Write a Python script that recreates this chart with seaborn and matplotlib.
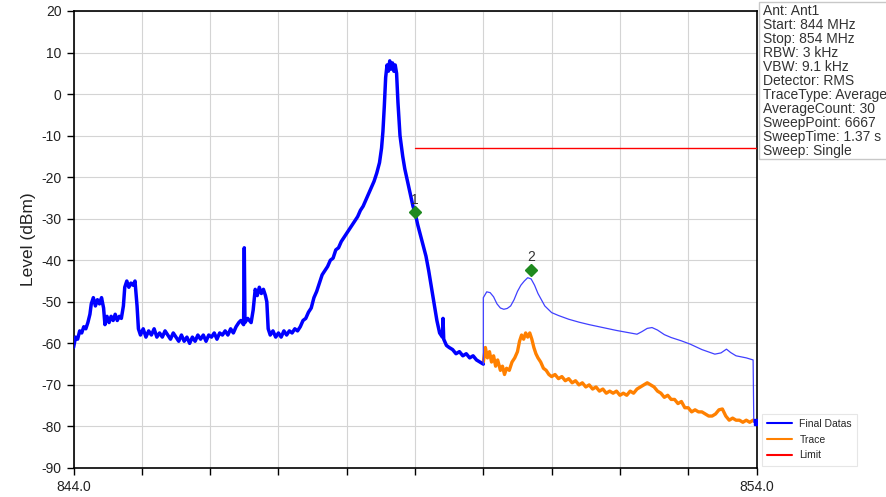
import matplotlib
matplotlib.use("Agg")
from matplotlib import pyplot as plt
from matplotlib.patches import Rectangle
import pandas as pd
import seaborn as sns

# Final Datas trace, 844-850 MHz (noisy carrier + spurs)
blue_freq = [844.00, 844.03, 844.06, 844.09, 844.12, 844.15, 844.18, 844.21, 844.24, 844.26,
             844.29, 844.32, 844.35, 844.38, 844.41, 844.44, 844.46, 844.49, 844.52, 844.55,
             844.58, 844.61, 844.64, 844.67, 844.70, 844.73, 844.75, 844.78, 844.81, 844.84,
             844.87, 844.90, 844.93, 844.95, 844.98, 845.02, 845.06, 845.10, 845.14, 845.18,
             845.22, 845.26, 845.30, 845.34, 845.38, 845.42, 845.46, 845.50, 845.54, 845.58,
             845.62, 845.66, 845.70, 845.74, 845.78, 845.82, 845.86, 845.90, 845.94, 845.98,
             846.02, 846.06, 846.10, 846.14, 846.18, 846.22, 846.26, 846.30, 846.34, 846.38,
             846.42, 846.45, 846.49, 846.50, 846.51, 846.55, 846.60, 846.63, 846.66, 846.69,
             846.72, 846.75, 846.78, 846.81, 846.83, 846.85, 846.88, 846.92, 846.96, 847.00,
             847.04, 847.08, 847.12, 847.16, 847.20, 847.24, 847.28, 847.32, 847.36, 847.40,
             847.44, 847.48, 847.52, 847.56, 847.60, 847.64, 847.68, 847.72, 847.76, 847.80,
             847.84, 847.88, 847.92, 847.96, 848.00, 848.04, 848.08, 848.12, 848.16, 848.20,
             848.24, 848.28, 848.32, 848.36, 848.40, 848.44, 848.48, 848.51, 848.53, 848.55,
             848.57, 848.59, 848.61, 848.63, 848.65, 848.67, 848.69, 848.71, 848.73, 848.75,
             848.78, 848.82, 848.85, 848.89, 848.93, 848.97, 849.00, 849.04, 849.08, 849.12,
             849.16, 849.20, 849.24, 849.28, 849.32, 849.36, 849.40, 849.41, 849.42, 849.46,
             849.50, 849.55, 849.60, 849.65, 849.70, 849.75, 849.80, 849.85, 849.90, 849.95,
             850.00]
blue_level = [-61.0, -58.5, -59.0, -57.0, -57.5, -56.0, -56.5, -55.0, -53.0, -50.5,
              -49.0, -51.0, -49.5, -50.5, -49.0, -51.5, -55.5, -53.5, -55.0, -53.5,
              -54.5, -53.0, -54.5, -53.5, -54.0, -51.0, -46.5, -45.0, -46.5, -45.5,
              -46.0, -45.0, -51.0, -56.5, -58.0, -56.5, -58.5, -57.0, -58.0, -56.5,
              -58.5, -57.5, -58.5, -57.0, -58.0, -59.0, -57.5, -58.5, -59.5, -58.0,
              -59.5, -58.5, -60.0, -58.5, -59.5, -58.0, -59.0, -58.0, -59.5, -58.0,
              -58.5, -57.5, -59.0, -57.5, -58.0, -57.0, -58.0, -56.5, -57.5, -56.0,
              -55.0, -54.5, -55.5, -37.0, -55.0, -54.0, -55.0, -52.0, -47.0, -48.5,
              -46.5, -48.0, -47.0, -48.5, -50.0, -56.5, -58.0, -57.0, -58.5, -57.5,
              -58.5, -57.0, -58.0, -57.0, -57.5, -56.5, -57.0, -56.0, -54.5, -54.0,
              -52.5, -51.5, -49.0, -47.5, -45.5, -43.5, -42.5, -41.5, -40.0, -39.5,
              -37.5, -37.0, -35.5, -34.5, -33.5, -32.5, -31.5, -30.5, -29.5, -28.0,
              -27.0, -25.5, -24.0, -22.5, -21.0, -19.0, -16.5, -13.0, -9.0, -3.0,
              4.0, 7.0, 5.5, 8.0, 6.0, 7.5, 5.5, 7.0, 5.0, -2.0,
              -10.0, -15.0, -18.0, -21.0, -24.0, -27.0, -28.5, -31.5, -34.0, -36.5,
              -39.0, -42.5, -46.5, -50.5, -54.5, -57.5, -58.5, -54.0, -59.0, -60.5,
              -61.0, -61.5, -62.5, -62.0, -63.0, -62.5, -63.5, -63.0, -64.0, -64.5,
              -65.0]

# Final Datas (smooth max level), 850-854 MHz
upper_freq = [850.00, 850.00, 850.05, 850.10, 850.15, 850.20, 850.25, 850.30, 850.35, 850.40,
              850.45, 850.50, 850.55, 850.60, 850.65, 850.70, 850.75, 850.80, 850.85, 850.90,
              851.00, 851.10, 851.25, 851.40, 851.55, 851.75, 851.95, 852.15, 852.25, 852.32,
              852.40, 852.47, 852.55, 852.65, 852.75, 852.90, 853.03, 853.20, 853.39, 853.48,
              853.56, 853.62, 853.70, 853.85, 853.95, 853.96, 854.00]
upper_level = [-65.0, -49.0, -47.6, -47.8, -48.8, -50.5, -51.5, -51.8, -51.6, -51.0,
               -49.5, -47.5, -46.0, -45.0, -44.2, -44.5, -46.0, -48.0, -49.5, -51.0,
               -52.6, -53.3, -54.2, -54.9, -55.5, -56.2, -56.9, -57.5, -57.8, -57.2,
               -56.4, -56.2, -56.8, -57.9, -58.6, -59.4, -60.2, -61.5, -62.6, -62.3,
               -61.4, -62.2, -63.0, -63.5, -64.0, -79.0, -79.0]

# Trace, 850-854 MHz
trace_freq = [850.00, 850.03, 850.06, 850.09, 850.12, 850.15, 850.18, 850.21, 850.25, 850.28,
              850.31, 850.34, 850.38, 850.42, 850.46, 850.50, 850.53, 850.56, 850.59, 850.62,
              850.65, 850.68, 850.71, 850.74, 850.77, 850.80, 850.84, 850.88, 850.92, 850.96,
              851.00, 851.05, 851.10, 851.15, 851.20, 851.25, 851.30, 851.35, 851.40, 851.45,
              851.50, 851.55, 851.60, 851.65, 851.70, 851.75, 851.80, 851.85, 851.90, 851.95,
              852.00, 852.05, 852.10, 852.15, 852.20, 852.25, 852.30, 852.35, 852.40, 852.45,
              852.50, 852.55, 852.60, 852.65, 852.70, 852.75, 852.80, 852.85, 852.90, 852.95,
              853.00, 853.05, 853.10, 853.15, 853.20, 853.25, 853.30, 853.35, 853.40, 853.45,
              853.50, 853.55, 853.60, 853.65, 853.70, 853.75, 853.80, 853.85, 853.90, 853.95,
              853.99]
trace_level = [-64.5, -61.0, -63.5, -62.0, -64.5, -63.0, -65.5, -64.0, -66.5, -65.5,
               -67.5, -66.0, -66.5, -64.5, -63.5, -62.0, -59.5, -58.0, -59.0, -57.5,
               -58.5, -57.5, -59.0, -61.0, -62.5, -63.5, -64.5, -66.0, -66.5, -67.5,
               -68.0, -67.5, -68.5, -68.0, -69.0, -68.5, -69.5, -69.0, -70.0, -69.5,
               -70.5, -70.0, -71.0, -70.5, -71.5, -71.0, -72.0, -71.5, -72.0, -71.5,
               -72.5, -72.0, -72.5, -71.5, -72.0, -71.0, -70.5, -70.0, -69.5, -70.0,
               -70.5, -71.5, -72.0, -73.0, -72.5, -73.5, -73.5, -74.5, -74.0, -75.5,
               -75.5, -76.5, -76.0, -76.5, -76.5, -77.0, -77.5, -77.5, -77.0, -76.0,
               -75.8, -77.5, -78.5, -78.0, -78.5, -78.5, -79.0, -78.5, -79.0, -78.5,
               -79.0]

limit_freq = [849.0, 854.0]
limit_level = [-13.0, -13.0]

marker_freq = [849.00, 850.70]
marker_level = [-28.5, -42.3]
marker_names = ["1", "2"]

x_ticks = [844, 845, 846, 847, 848, 849, 850, 851, 852, 853, 854]
x_tick_labels = ["844.0", "", "", "", "", "", "", "", "", "", "854.0"]
y_ticks = [20, 10, 0, -10, -20, -30, -40, -50, -60, -70, -80, -90]

info_lines = ["Ant: Ant1", "Start: 844 MHz", "Stop: 854 MHz", "RBW: 3 kHz", "VBW: 9.1 kHz",
              "Detector: RMS", "TraceType: Average", "AverageCount: 30", "SweepPoint: 6667",
              "SweepTime: 1.37 s", "Sweep: Single"]

sns.set_style("white")
plt.rcParams['font.family'] = ['Liberation Sans', 'DejaVu Sans']
plt.rcParams['axes.unicode_minus'] = False

fig = plt.figure(figsize=(8.87, 4.97), dpi=100)
ax = fig.add_axes([0.0829, 0.0584, 0.7700, 0.9195])

blue_df = pd.DataFrame({'f': blue_freq, 'l': blue_level})
upper_df = pd.DataFrame({'f': upper_freq, 'l': upper_level})
trace_df = pd.DataFrame({'f': trace_freq, 'l': trace_level})
limit_df = pd.DataFrame({'f': limit_freq, 'l': limit_level})

sns.lineplot(data=trace_df, x='f', y='l', ax=ax, color='#ff8000', lw=2.4,
             estimator=None, sort=False, zorder=3)
sns.lineplot(data=blue_df, x='f', y='l', ax=ax, color='#0000ff', lw=2.5,
             estimator=None, sort=False, zorder=4)
sns.lineplot(data=upper_df, x='f', y='l', ax=ax, color='#4040ff', lw=0.9,
             estimator=None, sort=False, zorder=4)
sns.lineplot(data=limit_df, x='f', y='l', ax=ax, color='#ff0000', lw=1.0,
             estimator=None, sort=False, zorder=3)

# end point marker of Final Datas
ax.plot([upper_freq[-1]], [upper_level[-1]], 's', color='#0000ff', ms=5, zorder=5, clip_on=True)

# markers 1 and 2
ax.plot(marker_freq, marker_level, 'D', color='#1f8a1f', ms=6, zorder=6)
for f, l, n in zip(marker_freq, marker_level, marker_names):
    ax.text(f, l + 1.3, n, ha='center', va='bottom', fontsize=10, color='#333333', zorder=6)

ax.set_xlim(844, 854)
ax.set_ylim(-90, 20)
ax.set_xticks(x_ticks)
ax.set_xticklabels(x_tick_labels)
ax.set_yticks(y_ticks)
ax.set_xlabel('')
ax.set_ylabel('Level (dBm)', fontsize=12.5, color='#222222', labelpad=4)
ax.grid(True, color='#d4d4d4', lw=0.8)
ax.tick_params(axis='both', direction='out', length=5, width=1, color='black',
               labelsize=10, labelcolor='#222222', bottom=True, left=True)
for sp in ax.spines.values():
    sp.set_color('black')
    sp.set_linewidth(1.2)

# legend handles with thinner lines, as in the analyzer window
h_final = plt.Line2D([], [], color='#0000ff', lw=1.5)
h_trace = plt.Line2D([], [], color='#ff8000', lw=1.5)
h_limit = plt.Line2D([], [], color='#ff0000', lw=1.5)
leg = ax.legend(handles=[h_final, h_trace, h_limit],
                labels=['Final Datas', 'Trace', 'Limit'],
                loc='lower left', bbox_to_anchor=(1.008, 0.005), fontsize=7.5,
                frameon=True, fancybox=False, handlelength=2.4, handletextpad=0.7,
                borderaxespad=0, labelspacing=0.55, borderpad=0.5)
leg.get_frame().set_edgecolor('#e0e0e0')
leg.get_frame().set_linewidth(0.8)

# info box
fig.patches.append(Rectangle((759 / 887, 1 - 159 / 497), 0.15, 157 / 497,
                             transform=fig.transFigure, fill=False,
                             edgecolor='#c8c8c8', lw=1.0))
fig.text(763 / 887, 1 - 4 / 497, "\n".join(info_lines), ha='left', va='top',
         fontsize=10, color='#333333', linespacing=1.0)

fig.savefig('out.png', dpi=100)
